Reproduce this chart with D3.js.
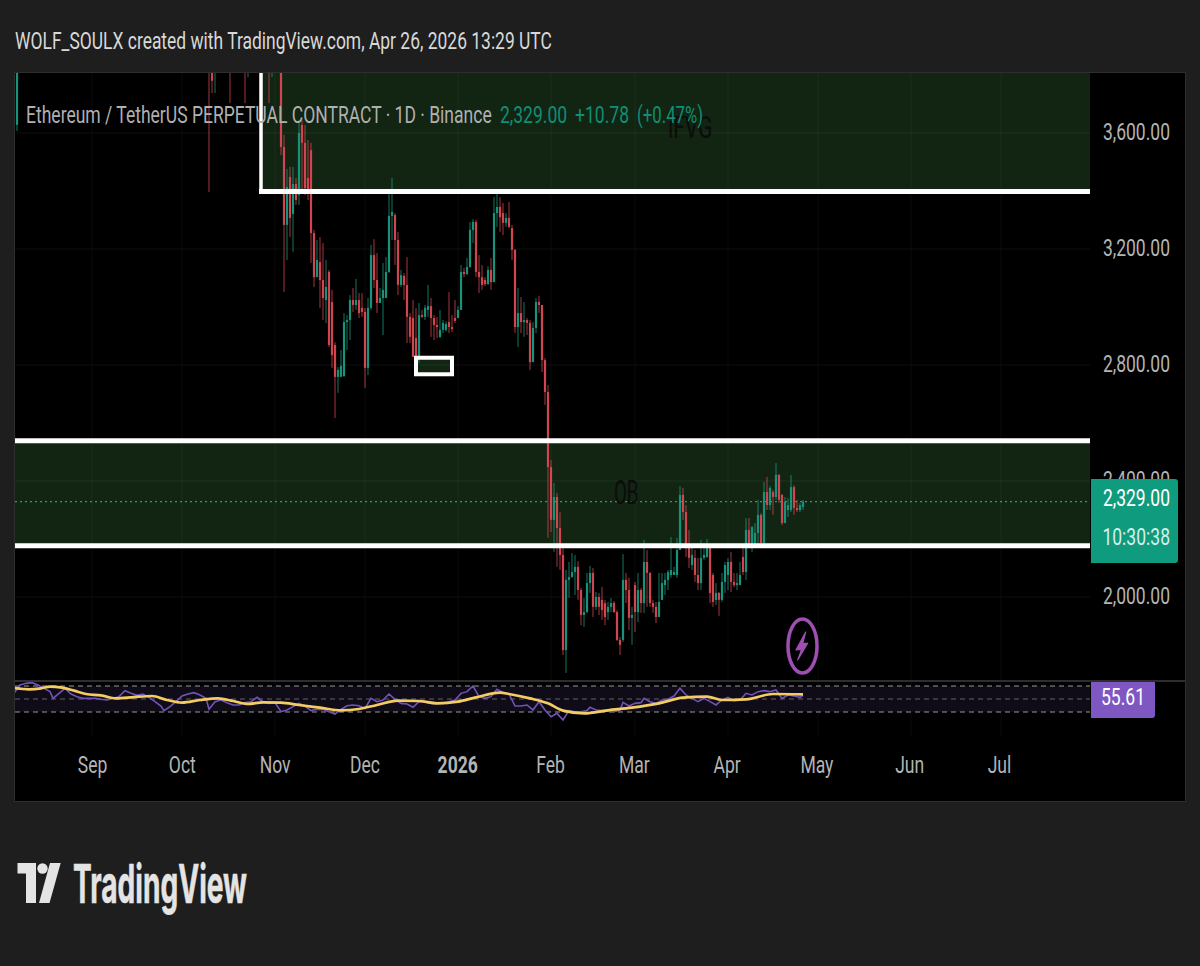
<!DOCTYPE html>
<html><head><meta charset="utf-8">
<script src="https://cdn.jsdelivr.net/npm/d3@7/dist/d3.min.js"></script>
<style>
html,body{margin:0;padding:0;background:#1e1e1e;}
svg{display:block;}
text{font-family:Roboto,"Noto Sans",sans-serif;}
</style></head><body>
<svg id="c" width="1200" height="966"></svg>
<script>
const headerText = "WOLF_SOULX created with TradingView.com, Apr 26, 2026 13:29 UTC";
const legendName = "Ethereum / TetherUS PERPETUAL CONTRACT · 1D · Binance";
const legendValues = ["2,329.00", "+10.78", "(+0.47%)"];
const priceTicks = [3600, 3200, 2800, 2400, 2000];
const monthDates = ["2025-09-01","2025-10-01","2025-11-01","2025-12-01","2026-01-01","2026-02-01","2026-03-01","2026-04-01","2026-05-01","2026-06-01","2026-07-01"];
const monthLabels = ["Sep","Oct","Nov","Dec","2026","Feb","Mar","Apr","May","Jun","Jul"];

// scattered candles from before the continuous visible stretch (mostly above the pane)
const earlyDates = ["2025-08-07","2025-10-10","2025-10-11","2025-10-12","2025-10-17","2025-10-22","2025-10-23","2025-10-30","2025-10-31"];
const earlyOpen  = [3628,4300,3850,3815,4000,3900,3830,3900,3830];
const earlyHigh  = [4000,4350,4000,4150,4050,3950,3950,3950,3950];
const earlyLow   = [3607,3397,3738,3738,3703,3703,3793,3703,3793];
const earlyClose = [3900,3820,3780,4100,3830,3830,3900,3830,3900];

// daily candles from 2025-11-03 to 2026-04-26
const seriesStart = "2025-11-03";
const opens = [3900,3552,3283,3448,3321,3424,3386,
3628,3566,3445,3541,3255,3103,3155,3093,3024,3121,
3017,2869,2759,2759,2762,2948,2955,3024,3007,3024,
2997,2983,2790,2997,3179,3093,3014,3031,3031,3121,
3314,3317,3231,3076,3107,3076,2966,2962,2893,2828,
2972,2966,2990,3003,2962,2938,2897,2921,2921,2948,
2931,2962,2962,2990,3121,3114,3138,3266,3293,3121,
3103,3093,3079,3128,3086,3324,3345,3324,3290,3307,
3272,3197,2931,2979,2948,2955,2945,2810,2928,3017,
3007,2817,2707,2448,2266,2345,2238,2145,1817,2059,
2069,2086,2104,2024,1938,1948,2048,2083,1966,2000,
1990,1979,1948,1966,1979,1948,1852,1852,2059,2024,
1928,2041,1948,2024,1979,2121,2083,1979,1966,1931,
1990,2041,2059,2076,2076,2076,2162,2352,2293,2169,
2110,2135,2076,2048,2135,2138,2169,2076,1990,2014,
1990,2052,2076,2121,2052,2041,2041,2138,2086,2231,
2169,2179,2221,2283,2186,2362,2317,2362,2345,2421,
2352,2255,2300,2300,2379,2307,2300,2310];
const highs = [3950,3593,3476,3483,3483,3445,3645,
3645,3628,3576,3566,3266,3231,3241,3221,3162,3128,
3059,2879,2793,2852,2979,2972,3041,3066,3097,3048,
3048,2997,3031,3214,3234,3186,3066,3152,3172,3393,
3445,3324,3259,3128,3117,3172,2979,3024,2997,3014,
2990,3007,3076,3031,2972,2966,2990,2955,2950,3052,
2972,3024,3003,3145,3135,3169,3293,3303,3300,3179,
3145,3103,3141,3169,3379,3400,3379,3359,3324,3362,
3283,3200,3066,3034,3017,2962,2955,2948,3031,3038,
3007,2824,2731,2472,2393,2359,2293,2172,2093,2121,
2152,2145,2124,2031,1997,2083,2107,2100,2017,2014,
2035,1990,1983,1997,1986,1955,1862,2148,2083,2066,
1966,2052,2083,2031,2197,2162,2086,1990,1983,2083,
2083,2083,2093,2207,2104,2204,2383,2376,2317,2231,
2169,2162,2135,2197,2186,2200,2176,2083,2048,2017,
2083,2121,2135,2155,2083,2083,2121,2172,2272,2272,
2245,2255,2335,2290,2397,2414,2383,2369,2462,2424,
2355,2345,2341,2421,2386,2335,2324,2335];
const lows = [3524,3052,3162,3241,3190,3352,3352,
3403,3386,3369,3152,3069,3103,2997,2955,2945,2862,
2790,2617,2704,2765,2759,2852,2886,2983,2990,2962,
2966,2721,2765,2990,3066,2979,3014,2903,3034,3117,
3231,3145,3041,3069,3024,2876,2876,2828,2772,2807,
2962,2955,2966,2897,2886,2893,2893,2910,2915,2910,
2914,2945,2966,2990,3103,3110,3135,3221,3103,3048,
3059,3072,3076,3059,3086,3276,3259,3248,3276,3272,
3162,2910,2862,2910,2897,2903,2783,2810,2910,2979,
2776,2662,2204,2224,2155,2104,2093,1800,1738,1997,
2066,2007,1990,1903,1897,1945,2014,1931,1955,1938,
1921,1903,1921,1948,1945,1848,1800,1845,1979,1886,
1835,1879,1914,1945,1945,1966,1966,1945,1910,1931,
1990,2007,2024,2066,2076,2066,2162,2266,2138,2100,
2093,2052,2024,2024,2128,2135,1979,1966,1972,1935,
1983,2014,2024,2017,2034,2024,2041,2076,2059,2172,
2155,2172,2172,2172,2179,2300,2300,2283,2335,2324,
2248,2255,2276,2293,2283,2293,2293,2300];
const closes = [3552,3283,3414,3307,3424,3369,3600,
3566,3410,3403,3255,3103,3162,3093,3031,3069,2869,
2834,2759,2783,2797,2948,2955,3024,3007,3024,2979,
2983,2790,2997,3179,3093,3014,3031,3059,3121,3314,
3328,3231,3076,3110,3076,2966,2897,2828,2800,2972,
2966,2997,3003,2962,2938,2931,2921,2945,2941,2931,
2924,2952,2990,3121,3114,3138,3266,3293,3121,3103,
3076,3079,3128,3086,3324,3345,3310,3290,3307,3276,
3197,2931,2979,2948,2955,2945,2810,2928,3017,3007,
2817,2707,2448,2266,2345,2238,2145,1817,2059,2069,
2086,2104,2024,1938,1948,2048,2083,1966,2000,1966,
1955,1931,1966,1979,1948,1852,1835,2059,2024,1928,
1938,1948,2024,1979,2121,2083,1979,1966,1931,1983,
2048,2059,2086,2093,2086,2162,2352,2293,2169,2135,
2145,2076,2048,2135,2145,2169,2014,1983,2014,1990,
2052,2110,2121,2052,2041,2048,2076,2086,2231,2179,
2241,2221,2283,2186,2362,2317,2376,2345,2421,2335,
2255,2328,2317,2379,2307,2300,2317,2329];

// RSI readings: day offsets from 2025-09-01 and the values read there
const rsiDays = [-26,-24,-22,-20,-18,-16,-14,-13,-11,-9,-7,-5,-3,-1,1,3,5,7,9,11,13,15,17,19,21,23,24,26,28,30,32,34,36,38,39,41,43,45,47,49,51,53,55,57,59,61,63,65,67,69,71,73,75,77,79,81,83,85,87,89,91,93,95,97,99,101,103,105,107,
109,111,113,115,117,119,121,123,125,127,129,131,133,135,137,139,141,143,145,147,149,151,153,155,157,159,161,163,165,166,168,170,172,174,176,177,179,181,183,184,186,188,190,192,194,196,198,200,202,204,206,208,210,212,214,216,218,220,222,224,226,228,230,232,234,236,237];
const rsiValues = [58.7,71.5,74.1,75.1,71.5,66.4,61.3,51,58.7,66.4,57.7,53.6,51,51,51,49.5,48.5,51,53.6,62.8,58.7,55.6,57.7,52.6,45.9,39.2,32.1,38.2,45.9,54.6,57.7,59.7,56.2,51,34.1,45.9,48.5,44.4,40.8,40.8,44.4,45.9,52.6,45.9,43.3,44.4,30.5,33.1,38.2,43.3,39.2,32.1,34.1,34.1,30.5,26.9,34.1,39.7,40.8,39.7,35.6,51,45.9,48.5,57.7,49.5,43.3,42.3,37.2,
45.9,44.9,43.3,43.3,43.3,45.9,48.5,58.7,61.3,70,53.6,51,53.6,64.9,59.7,57.7,39.2,39.2,40.8,33.1,45.9,33.1,22.8,27.9,17.7,32.1,30.5,30.5,32.1,37.2,33.1,32.1,33.1,30.5,33.1,44.9,39.2,43.3,44.4,51,45.9,43.3,48.5,49.5,54.6,66.4,56.2,51,45.9,51,45.9,40.8,48.5,52.6,47.4,48.5,58.7,56.2,61.3,62.8,61.3,63.8,51,56.2,54.6,52.6,55.61];
// RSI moving average readings
const maDays = [-26,-21,-17,-14,-10,-6,-2,3,8,14,20,25,30,36,42,47,52,57,63,69,76,83,89,95,102,109,115,122,128,136,139,146,152,157,164,172,180,189,197,205,210,218,227,237];
const maValues = [66.9,64.9,66.4,69,67.4,62.8,57.7,55.6,51,53,54.6,48.5,44.4,48.5,51,46.9,42.3,44.9,44.4,40.8,36.7,32.6,34.6,40.8,47.4,46.9,43.3,45.9,52.6,59.7,57.7,51,43.3,32.1,27.9,32.6,36.7,43.3,52,53.6,48.5,49.5,57.7,57.2];

const rsiBand = [70, 50, 30];
const rsiLabel = "55.61";
const zoneTop = {from:"2025-10-27T08:00:00Z", to:"2026-08-01", hi:3900, lo:3398, label:"iFVG"};
const zoneMid = {from:"2025-08-01", to:"2026-08-01", hi:2539, lo:2177, label:"OB"};
const zoneSmall = {from:"2025-12-18", to:"2025-12-30", hi:2825, lo:2768};
const lastPrice = 2329, priceTag = "2,329.00", countdown = "10:30:38";

const L=15,R=1090,OUT=1185,TOP=73,MAINB=681,RSIB=737,BOT=801;
const dayMs=864e5, sep1=Date.UTC(2025,8,1);
const x=d3.scaleUtc().domain([new Date(sep1+(L-92)/3*dayMs),new Date(sep1+(R-92)/3*dayMs)]).range([L,R]);
const y=d3.scaleLinear().domain([3600,2000]).range([133,597]);
const yr=d3.scaleLinear().domain([70,30]).range([686,712]);
const dayX=d=>x(new Date(sep1+d*dayMs));
const GREEN="#17937a", RED="#d0444f";

const svg=d3.select("#c");
const defs=svg.append("defs");
defs.append("clipPath").attr("id","main").append("rect").attr("x",L).attr("y",TOP).attr("width",R-L).attr("height",MAINB-TOP);
defs.append("clipPath").attr("id","rsi").append("rect").attr("x",L).attr("y",MAINB).attr("width",R-L).attr("height",RSIB-MAINB);
defs.append("filter").attr("id","soft").attr("x","-2%").attr("y","-2%").attr("width","104%").attr("height","104%")
  .append("feGaussianBlur").attr("stdDeviation","0.45");

svg.append("rect").attr("width",1200).attr("height",966).attr("fill","#1e1e1e");
svg.append("rect").attr("x",L).attr("y",TOP).attr("width",OUT-L).attr("height",BOT-TOP).attr("fill","#000");
svg.append("rect").attr("x",L-.5).attr("y",TOP-.5).attr("width",OUT-L+1).attr("height",BOT-TOP+1).attr("fill","none").attr("stroke","#2e2e2e");

// helper to squeeze text to the narrow look of the picture
function squeeze(sel,k){sel.each(function(){const w=this.getComputedTextLength();
  this.setAttribute("textLength",(w*k).toFixed(1));this.setAttribute("lengthAdjust","spacingAndGlyphs");});return sel;}
const K=0.73;

// zones
const main=svg.append("g").attr("clip-path","url(#main)");
function zoneRect(z,fill){return main.append("rect").attr("x",x(new Date(z.from))).attr("width",x(new Date(z.to))-x(new Date(z.from)))
  .attr("y",y(z.hi)).attr("height",y(z.lo)-y(z.hi)).attr("fill",fill);}
zoneRect(zoneTop,"#122412");zoneRect(zoneMid,"#122412");zoneRect(zoneSmall,"#122412");

// grid
main.append("g").selectAll("line").data(priceTicks).join("line")
 .attr("x1",L).attr("x2",R).attr("y1",d=>y(d)).attr("y2",d=>y(d)).attr("stroke","#fff").attr("stroke-opacity",.055);
const dates=monthDates.map(d=>new Date(d));
const gridV=svg.append("g");
gridV.selectAll("line").data(dates).join("line").attr("x1",d=>x(d)).attr("x2",d=>x(d)).attr("y1",TOP).attr("y2",RSIB)
 .attr("stroke","#fff").attr("stroke-opacity",.04);

// candles
const early=earlyDates.map((d,i)=>({t:new Date(d),o:earlyOpen[i],h:earlyHigh[i],l:earlyLow[i],c:earlyClose[i]}));
const start=new Date(seriesStart).getTime();
const mainC=opens.map((o,i)=>({t:new Date(start+i*dayMs),o,h:highs[i],l:lows[i],c:closes[i]}));
const candles=early.concat(mainC);
const cg=main.append("g").attr("filter","url(#soft)");
cg.selectAll("line").data(candles).join("line")
 .attr("x1",d=>x(d.t)).attr("x2",d=>x(d.t)).attr("y1",d=>y(d.h)).attr("y2",d=>y(d.l))
 .attr("stroke",d=>d.c>=d.o?GREEN:RED).attr("stroke-width",1).attr("stroke-opacity",.8);
cg.selectAll("rect").data(candles).join("rect")
 .attr("x",d=>x(d.t)-1.1).attr("width",2.2)
 .attr("y",d=>y(Math.max(d.o,d.c))).attr("height",d=>Math.max(1,Math.abs(y(d.o)-y(d.c))))
 .attr("fill",d=>d.c>=d.o?GREEN:RED);

// white zone borders
function bline(x1,y1,x2,y2,w){main.append("line").attr("x1",x1).attr("x2",x2).attr("y1",y1).attr("y2",y2).attr("stroke","#fff").attr("stroke-width",w);}
bline(x(new Date(zoneTop.from)),TOP,x(new Date(zoneTop.from)),y(zoneTop.lo)+2,3.5);
bline(x(new Date(zoneTop.from))-2,y(zoneTop.lo),R,y(zoneTop.lo),5);
bline(L,y(zoneMid.hi),R,y(zoneMid.hi),5);
bline(L,y(zoneMid.lo),R,y(zoneMid.lo),5);
main.append("rect").attr("x",x(new Date(zoneSmall.from))).attr("y",y(zoneSmall.hi))
 .attr("width",x(new Date(zoneSmall.to))-x(new Date(zoneSmall.from))).attr("height",y(zoneSmall.lo)-y(zoneSmall.hi))
 .attr("fill","none").attr("stroke","#fff").attr("stroke-width",4);

// last price line
main.append("line").attr("x1",L).attr("x2",R).attr("y1",y(lastPrice)).attr("y2",y(lastPrice))
 .attr("stroke","#22a084").attr("stroke-dasharray","2 3").attr("stroke-width",1.2);

// zone labels
squeeze(svg.append("text").attr("x",668).attr("y",138).attr("font-size",32).attr("fill","#0c0c0c").text(zoneTop.label),.66);
squeeze(svg.append("text").attr("x",614).attr("y",504).attr("font-size",34).attr("fill","#0c0c0c").text(zoneMid.label),.55);

// RSI pane
const rg=svg.append("g").attr("clip-path","url(#rsi)");
rg.append("rect").attr("x",L).attr("width",R-L).attr("y",yr(70)).attr("height",yr(30)-yr(70)).attr("fill","#0f0c18");
rg.append("g").selectAll("line").data(rsiBand).join("line").attr("x1",L).attr("x2",R).attr("y1",d=>yr(d)).attr("y2",d=>yr(d))
 .attr("stroke","#a8a8a8").attr("stroke-opacity",d=>d===50?.55:.9).attr("stroke-dasharray","5 4").attr("stroke-width",1);
const rl=d3.line().x(d=>dayX(d[0])).y(d=>yr(d[1])).curve(d3.curveLinear);
rg.append("path").attr("d",rl(rsiDays.map((d,i)=>[d,rsiValues[i]]))).attr("fill","none").attr("stroke","#7252b8").attr("stroke-width",1.6);
rg.append("path").attr("d",rl.curve(d3.curveMonotoneX)(maDays.map((d,i)=>[d,maValues[i]]))).attr("fill","none").attr("stroke","#f4cd62").attr("stroke-width",2.7);
svg.append("line").attr("x1",L).attr("x2",OUT).attr("y1",MAINB).attr("y2",MAINB).attr("stroke","#3c3c3c").attr("stroke-width",1.5);

// price axis
const axR=svg.append("g").attr("transform",`translate(${R},0)`)
 .call(d3.axisRight(y).tickValues(priceTicks).tickSize(0).tickFormat(d3.format(",.2f")));
axR.select(".domain").remove();
const prT=axR.selectAll("text").attr("x",80).attr("dy",null).attr("y",-2).attr("dominant-baseline","central").attr("text-anchor","end").attr("font-size",24).style("font-family","Roboto").attr("fill","#b4b4b4");
squeeze(prT,K);

// time axis
const axB=svg.append("g").attr("transform","translate(0,765)")
 .call(d3.axisBottom(x).tickValues(dates).tickSize(0).tickFormat((d,i)=>monthLabels[i]));
axB.select(".domain").remove();
const tmT=axB.selectAll("text").attr("y",0).attr("dy",null).attr("dominant-baseline","central").attr("font-size",24).style("font-family","Roboto").attr("fill","#b4b4b4")
 .attr("font-weight",(d,i)=>monthLabels[i]==="2026"?700:400)
 .attr("x",d=>-(x(d)-92)*0.0022);
squeeze(tmT,K);

// price tag
svg.append("path").attr("fill","#0f9b7e").attr("d",(()=>{const p=d3.path();p.moveTo(1091,479);p.lineTo(1175,479);p.arcTo(1178,479,1178,482,3);p.lineTo(1178,560);p.arcTo(1178,563,1175,563,3);p.lineTo(1091,563);p.closePath();return p.toString();})());
squeeze(svg.append("text").attr("x",1170).attr("y",498).attr("text-anchor","end").attr("dominant-baseline","central").attr("font-size",24).attr("fill","#fff").text(priceTag),K);
squeeze(svg.append("text").attr("x",1170).attr("y",537).attr("text-anchor","end").attr("dominant-baseline","central").attr("font-size",24).attr("fill","#d4efe8").text(countdown),K);

// RSI tag
svg.append("path").attr("fill","#7e57c2").attr("d",(()=>{const p=d3.path();p.moveTo(1091,682);p.lineTo(1155,682);p.lineTo(1155,715);p.arcTo(1155,718,1152,718,3);p.lineTo(1091,718);p.closePath();return p.toString();})());
squeeze(svg.append("text").attr("x",1145).attr("y",697).attr("text-anchor","end").attr("dominant-baseline","central").attr("font-size",24).attr("fill","#fff").text(rsiLabel),K);

// legend
const lg=[[26,legendName,"#b0b0b0",K],[500,legendValues[0],"#0f8f76",K],[575,legendValues[1],"#0f8f76",K],[637,legendValues[2],"#0f8f76",.7]];
lg.forEach(l=>squeeze(svg.append("text").attr("x",l[0]).attr("y",115).attr("dominant-baseline","central").attr("font-size",24).attr("fill",l[2]).text(l[1]),l[3]));

// header
squeeze(svg.append("text").attr("x",15).attr("y",41).attr("dominant-baseline","central").attr("font-size",24).attr("fill","#d8d8d8").text(headerText),.727);

// lightning badge
const bolt=svg.append("g");
bolt.append("ellipse").attr("cx",802.5).attr("cy",646).attr("rx",14.5).attr("ry",27).attr("fill","none").attr("stroke","#9f4fb3").attr("stroke-width",3.5);
bolt.append("path").attr("d","M805.7,632 L796,650 L801.7,649.3 L797.7,660 L807.7,643.3 L802.7,643.3 Z").attr("fill","#9f4fb3").attr("stroke","#9f4fb3").attr("stroke-width",1.2).attr("stroke-linejoin","round");

// logo
const logo=svg.append("g").attr("fill","#e4e4e4");
logo.append("path").attr("d","M17.5,863 H36 V903 H26 V873.5 H17.5 Z");
logo.append("circle").attr("cx",42.5).attr("cy",868.5).attr("r",5.2);
logo.append("path").attr("d","M50,863 H60.7 L49.5,903 H39 Z");
const lt=logo.append("text").attr("x",73).attr("y",902.5).attr("font-size",53).attr("font-weight",700).style("font-family","Inter").attr("stroke","#e4e4e4").attr("stroke-width",0.6).text("TradingView");
lt.attr("textLength",174).attr("lengthAdjust","spacingAndGlyphs");
</script>
</body></html>
